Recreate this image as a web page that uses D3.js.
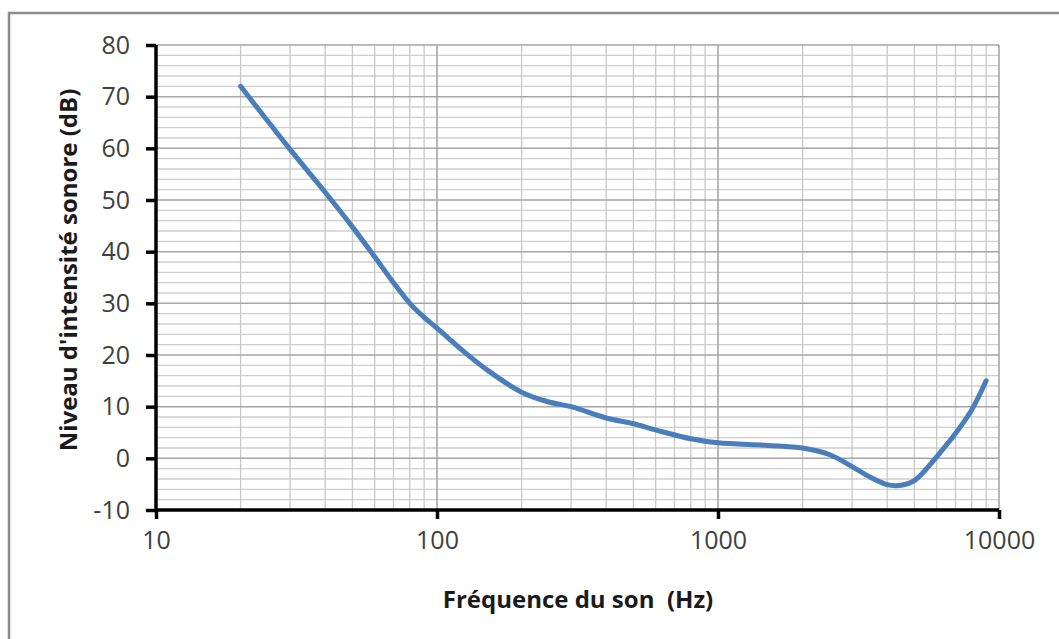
<!DOCTYPE html>
<html>
<head>
<meta charset="utf-8">
<script src="https://cdn.jsdelivr.net/npm/d3@7"></script>
<style>
  body { margin: 0; background: #fff; }
  svg { display: block; }
</style>
</head>
<body>
<svg id="chart"></svg>
<script>
// frequency (Hz) and threshold level (dB)
const frequencies = [20, 30, 40, 50, 60, 70, 80, 90, 100, 125, 150, 200, 250, 300, 400, 500, 600, 800, 1000, 1500, 2000, 2500, 3000, 3500, 4000, 4500, 5000, 5500, 6000, 7000, 8000, 9000];
const levels = [72, 59.8, 51.5, 44.8, 39, 34, 30, 27.3, 25.2, 20.6, 17.2, 12.8, 10.9, 10, 7.8, 6.7, 5.5, 3.8, 3, 2.5, 2, 0.7, -1.6, -3.7, -5.1, -5.2, -4.3, -2.1, 0.3, 4.8, 9.4, 15];
const xTicks = [10, 100, 1000, 10000];
const yTicks = [-10, 0, 10, 20, 30, 40, 50, 60, 70, 80];

const width = 1059, height = 639;
const margin = {left: 156, right: 60, top: 45, bottom: 129};

const svg = d3.select("#chart")
              .attr("width", width)
              .attr("height", height);

// outer frame (cut off at right and bottom like the source)
svg.append("rect")
   .attr("x", 9).attr("y", 13)
   .attr("width", 1100).attr("height", 700)
   .attr("fill", "none")
   .attr("stroke", "#8c8c8c")
   .attr("stroke-width", 2.5);

const x = d3.scaleLog().domain([10, 10000]).range([margin.left, width - margin.right]);
const y = d3.scaleLinear().domain([-10, 80]).range([height - margin.bottom, margin.top]);

// grid lines
const minorX = [];
for (let d = 10; d < 10000; d *= 10) {
  for (let k = 2; k <= 9; k++) minorX.push(d * k);
}
const minorY = d3.range(-10, 81, 2).filter(v => v % 10 !== 0);

svg.append("g").selectAll("line")
   .data(minorY)
   .enter().append("line")
   .attr("x1", x(10)).attr("x2", x(10000))
   .attr("y1", d => y(d)).attr("y2", d => y(d))
   .attr("stroke", "#cfcfcf").attr("stroke-width", 1.3);

svg.append("g").selectAll("line")
   .data(minorX)
   .enter().append("line")
   .attr("x1", d => x(d)).attr("x2", d => x(d))
   .attr("y1", y(-10)).attr("y2", y(80))
   .attr("stroke", "#c8c8c8").attr("stroke-width", 1.3);

svg.append("g").selectAll("line")
   .data(yTicks)
   .enter().append("line")
   .attr("x1", x(10)).attr("x2", x(10000))
   .attr("y1", d => y(d)).attr("y2", d => y(d))
   .attr("stroke", "#a6a6a6").attr("stroke-width", 1.5);

svg.append("g").selectAll("line")
   .data(xTicks)
   .enter().append("line")
   .attr("x1", d => x(d)).attr("x2", d => x(d))
   .attr("y1", y(-10)).attr("y2", y(80))
   .attr("stroke", "#a0a0a0").attr("stroke-width", 1.5);

// axes
const xAxis = svg.append("g")
   .attr("transform", `translate(0,${y(-10)})`)
   .call(d3.axisBottom(x).tickValues(xTicks).tickFormat(d => String(d)).tickSize(9).tickPadding(12));

const yAxis = svg.append("g")
   .attr("transform", `translate(${x(10)},0)`)
   .call(d3.axisLeft(y).tickValues(yTicks).tickFormat(d => String(d)).tickSize(10).tickPadding(16));

[xAxis, yAxis].forEach(g => {
  g.select(".domain").attr("stroke", "#000").attr("stroke-width", 3.5);
  g.selectAll(".tick line").attr("stroke", "#000").attr("stroke-width", 3.5);
  g.selectAll(".tick text")
   .attr("fill", "#404040")
   .style("font-family", "'Open Sans', sans-serif")
   .style("font-size", "25px");
});
// remove outer tick stubs d3 adds to the domain path
xAxis.select(".domain").attr("d", `M${x(10)},0H${x(10000)}`);
yAxis.select(".domain").attr("d", `M0,${y(80)}V${y(-10)}`);

// curve
const line = d3.line()
   .x(d => x(d[0]))
   .y(d => y(d[1]))
   .curve(d3.curveCatmullRom.alpha(0.5));

svg.append("path")
   .datum(frequencies.map((f, i) => [f, levels[i]]))
   .attr("d", line)
   .attr("fill", "none")
   .attr("stroke", "#4a7ebb")
   .attr("stroke-width", 5)
   .attr("stroke-linecap", "round");

// axis titles
svg.append("text")
   .attr("x", 578).attr("y", 608)
   .attr("text-anchor", "middle")
   .attr("fill", "#1a1a1a")
   .attr("xml:space", "preserve")
   .style("font-family", "'Open Sans', sans-serif")
   .style("font-weight", "bold")
   .style("font-size", "24px")
   .text("Fréquence du son  (Hz)");

svg.append("text")
   .attr("transform", "translate(77,270) rotate(-90)")
   .attr("text-anchor", "middle")
   .attr("fill", "#1a1a1a")
   .style("font-family", "'Open Sans', sans-serif")
   .style("font-weight", "bold")
   .style("font-size", "24px")
   .text("Niveau d'intensité sonore (dB)");
</script>
</body>
</html>
